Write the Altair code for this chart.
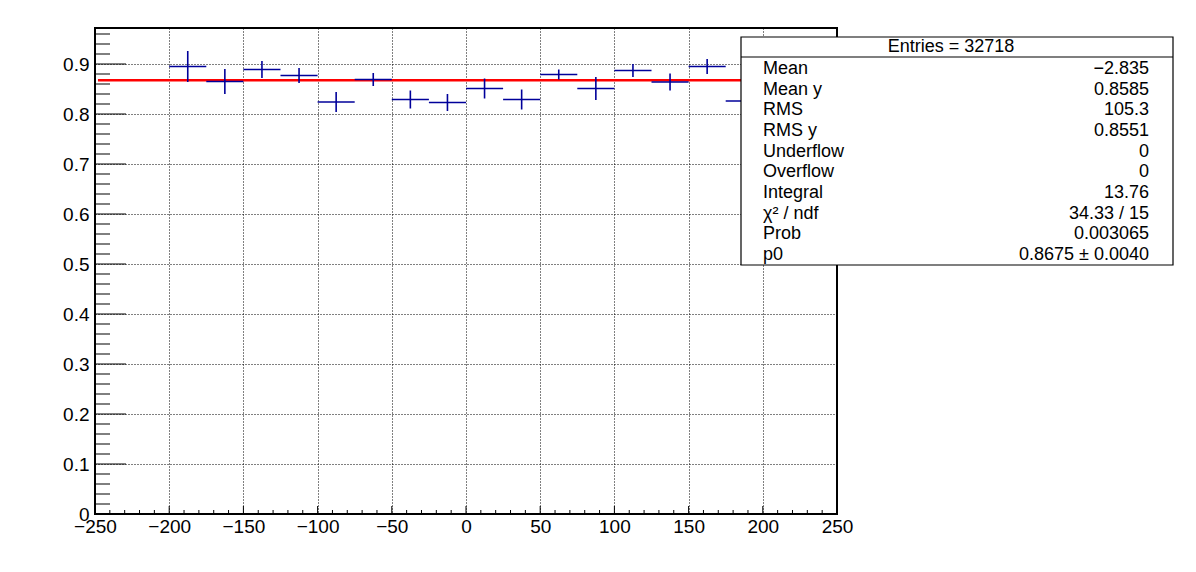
import altair as alt
import pandas as pd

# ---- data ----
bin_centers = [-187.5, -162.5, -137.5, -112.5, -87.5, -62.5, -37.5, -12.5,
               12.5, 37.5, 62.5, 87.5, 112.5, 137.5, 162.5, 187.5]
bin_half_width = 12.5
bin_means = [0.895, 0.865, 0.889, 0.877, 0.824, 0.869, 0.829, 0.823,
             0.851, 0.829, 0.879, 0.851, 0.887, 0.864, 0.895, 0.826]
bin_errors = [0.031, 0.025, 0.017, 0.015, 0.020, 0.013, 0.018, 0.017,
              0.020, 0.020, 0.010, 0.023, 0.013, 0.017, 0.015, 0.015]

fit_p0 = 0.8675
fit_range = [-248, 250]

x_tick_labels = [-250, -200, -150, -100, -50, 0, 50, 100, 150, 200, 250]
x_minor_ticks = [v for v in range(-240, 250, 10) if v % 50 != 0]
y_tick_labels = [0.0, 0.1, 0.2, 0.3, 0.4, 0.5, 0.6, 0.7, 0.8, 0.9]
y_minor_ticks = [round(k * 0.02, 2) for k in range(1, 49) if k % 5 != 0]

stats_header = "Entries = 32718"
stats_labels = ["Mean", "Mean y", "RMS", "RMS y", "Underflow", "Overflow",
                "Integral", "χ² / ndf", "Prob", "p0"]
stats_values = ["−2.835", "0.8585", "105.3", "0.8551", "0", "0",
                "13.76", "34.33 / 15", "0.003065", "0.8675 ± 0.0040"]

# ---- layout constants ----
W, H = 742, 486
FONT = "Liberation Sans"
FS_AX = 19
FS_ST = 18
BLUE = "#00009a"

xscale = alt.Scale(domain=[-250, 250], nice=False, zero=False)
yscale = alt.Scale(domain=[0, 0.972], nice=False, zero=False)

x_axis = alt.Axis(values=x_tick_labels, format="d", title=None, grid=True,
                  gridColor="black", gridDash=[1, 2], gridWidth=1,
                  gridOpacity=1, tickSize=0, domain=False,
                  labelFont=FONT, labelFontSize=FS_AX, labelColor="black",
                  labelPadding=3, labelFlush=False, labelOverlap=False)
y_axis = alt.Axis(values=y_tick_labels, format="~g", title=None, grid=True,
                  gridColor="black", gridDash=[1, 2], gridWidth=1,
                  gridOpacity=1, tickSize=0, domain=False,
                  labelFont=FONT, labelFontSize=FS_AX, labelColor="black",
                  labelPadding=6, labelFlush=False, labelOverlap=False)

df = pd.DataFrame({"x": bin_centers, "m": bin_means, "e": bin_errors})
df["xlo"] = df["x"] - bin_half_width
df["xhi"] = df["x"] + bin_half_width
df["ylo"] = df["m"] - df["e"]
df["yhi"] = df["m"] + df["e"]

# grid / axes layer (invisible points carry the axes)
axes_layer = alt.Chart(pd.DataFrame({"x": [0], "y": [0.5]})).mark_point(opacity=0).encode(
    x=alt.X("x:Q", scale=xscale, axis=x_axis),
    y=alt.Y("y:Q", scale=yscale, axis=y_axis),
)

# inward ticks
y_major = alt.Chart(pd.DataFrame({"v": y_tick_labels})).mark_rule(color="black", strokeWidth=1).encode(
    y=alt.Y("v:Q", scale=yscale, axis=y_axis), x=alt.value(0), x2=alt.value(31))
y_minor = alt.Chart(pd.DataFrame({"v": y_minor_ticks})).mark_rule(color="black", strokeWidth=1).encode(
    y=alt.Y("v:Q", scale=yscale, axis=y_axis), x=alt.value(0), x2=alt.value(15))
x_major = alt.Chart(pd.DataFrame({"v": x_tick_labels})).mark_rule(color="black", strokeWidth=1).encode(
    x=alt.X("v:Q", scale=xscale, axis=x_axis), y=alt.value(H), y2=alt.value(H - 8))
x_minor = alt.Chart(pd.DataFrame({"v": x_minor_ticks})).mark_rule(color="black", strokeWidth=1).encode(
    x=alt.X("v:Q", scale=xscale, axis=x_axis), y=alt.value(H), y2=alt.value(H - 4))

# fit line
fit_df = pd.DataFrame({"x": [fit_range[0]], "x2": [fit_range[1]], "y": [fit_p0]})
fit_line = alt.Chart(fit_df).mark_rule(color="#ff0000", strokeWidth=2.6).encode(
    x=alt.X("x:Q", scale=xscale, axis=x_axis), x2="x2:Q",
    y=alt.Y("y:Q", scale=yscale, axis=y_axis))

# profile points
hbars = alt.Chart(df).mark_rule(color=BLUE, strokeWidth=1.6).encode(
    x=alt.X("xlo:Q", scale=xscale, axis=x_axis), x2="xhi:Q",
    y=alt.Y("m:Q", scale=yscale, axis=y_axis))
vbars = alt.Chart(df).mark_rule(color=BLUE, strokeWidth=1.6).encode(
    x=alt.X("x:Q", scale=xscale, axis=x_axis),
    y=alt.Y("ylo:Q", scale=yscale, axis=y_axis), y2="yhi:Q")

# stats box (pixel-positioned annotation, relative to plot origin)
ox, oy = 95, 28
box_l, box_r, box_t, box_b = 741 - ox, 1173 - ox, 37 - oy, 265 - oy
one = alt.Data(values=[{"a": 1}])
box = alt.Chart(one).mark_rect(fill="white", stroke="black", strokeWidth=1.2).encode(
    x=alt.value(box_l), x2=alt.value(box_r), y=alt.value(box_t), y2=alt.value(box_b))
divider = alt.Chart(one).mark_rule(color="black", strokeWidth=1.2).encode(
    x=alt.value(box_l), x2=alt.value(box_r), y=alt.value(57 - oy))
header = alt.Chart(pd.DataFrame({"t": [stats_header]})).mark_text(
    font=FONT, fontSize=FS_ST, color="black", align="center", baseline="middle").encode(
    text="t:N", x=alt.value(951 - ox), y=alt.value(47 - oy))

row0, row_step = 69 - oy, 20.67
sdf = pd.DataFrame({"label": stats_labels, "value": stats_values})
sdf["py"] = [row0 + i * row_step for i in range(len(sdf))]
stat_lab = alt.Chart(sdf).mark_text(font=FONT, fontSize=FS_ST, color="black",
                                    align="left", baseline="middle").encode(
    text="label:N", x=alt.value(763 - ox), y=alt.Y("py:Q", scale=None, axis=None))
stat_val = alt.Chart(sdf).mark_text(font=FONT, fontSize=FS_ST, color="black",
                                    align="right", baseline="middle").encode(
    text="value:N", x=alt.value(1149 - ox), y=alt.Y("py:Q", scale=None, axis=None))

pad_left = ox - 8
pad_top = oy - 8

chart = alt.layer(
    axes_layer, y_major, y_minor, x_major, x_minor, fit_line, hbars, vbars,
    box, divider, header, stat_lab, stat_val
).properties(
    width=W, height=H,
    autosize=alt.AutoSizeParams(type="none"),
    padding={"left": pad_left, "top": pad_top, "right": 340, "bottom": 40},
    background="white",
).configure_view(stroke="black", strokeWidth=2)

chart.save("out.html", embed_options={"renderer": "svg", "actions": False})
